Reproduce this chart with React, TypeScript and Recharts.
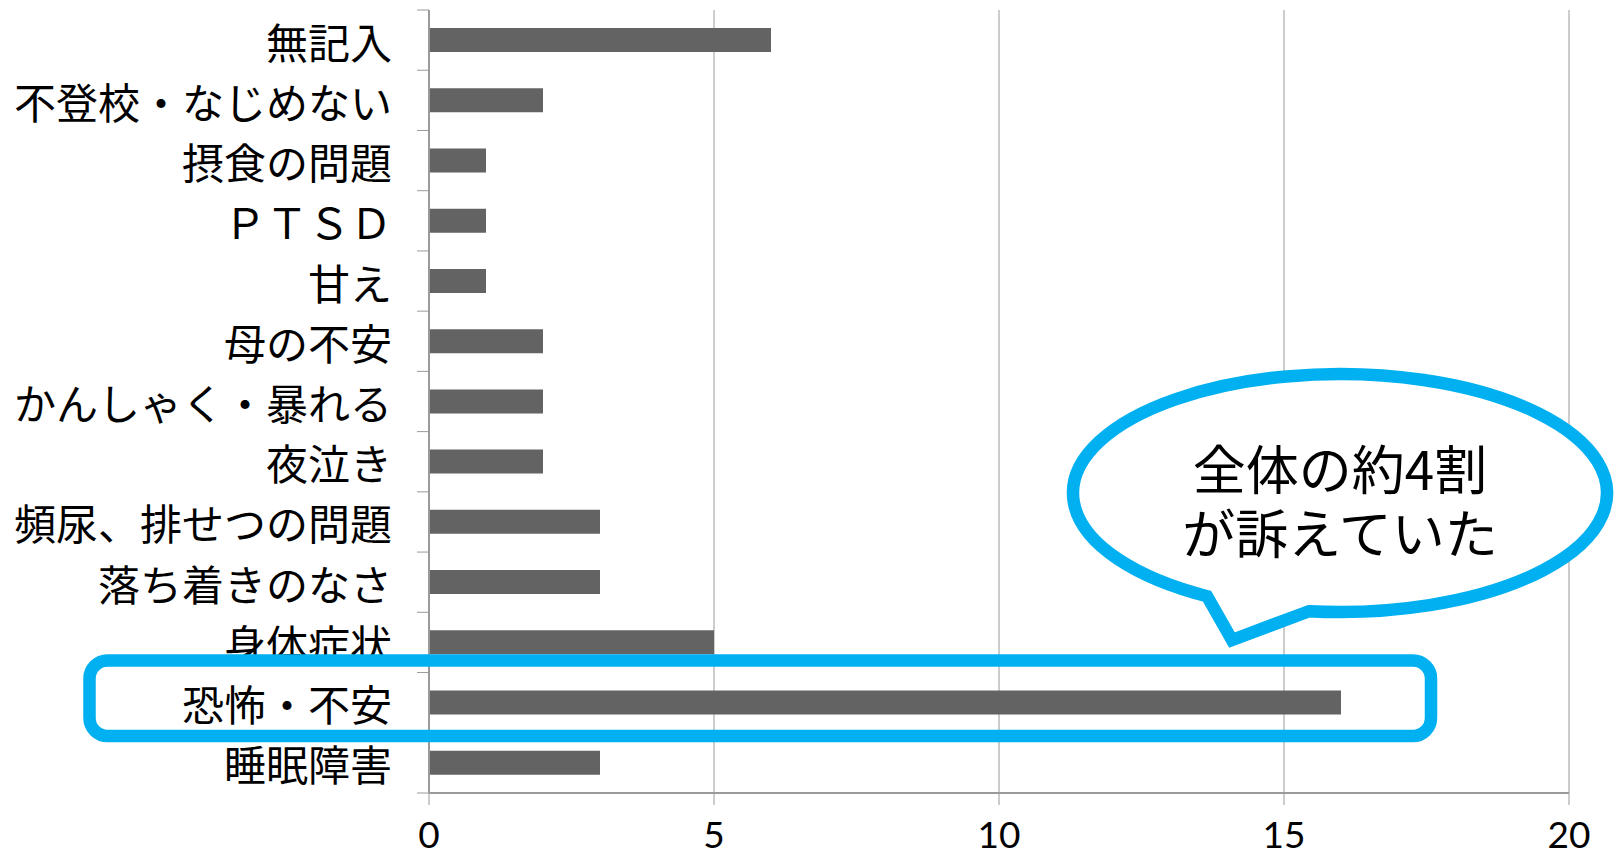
import { Bar, BarChart, CartesianGrid, XAxis, YAxis } from "recharts";

const categories = [
  "無記入",
  "不登校・なじめない",
  "摂食の問題",
  "ＰＴＳＤ",
  "甘え",
  "母の不安",
  "かんしゃく・暴れる",
  "夜泣き",
  "頻尿、排せつの問題",
  "落ち着きのなさ",
  "身体症状",
  "恐怖・不安",
  "睡眠障害",
];

const counts = [6, 2, 1, 1, 1, 2, 2, 2, 3, 3, 5, 16, 3];

const xTicks = [0, 5, 10, 15, 20];

const calloutLines = ["全体の約4割", "が訴えていた"];

const data = categories.map((name, i) => ({ name, value: counts[i] }));

const WIDTH = 1621;
const HEIGHT = 858;
const TOP = 10;
const X_AXIS_HEIGHT = 65;
const Y_AXIS_WIDTH = 429;
const BAND = (HEIGHT - TOP - X_AXIS_HEIGHT) / categories.length;
const GRAY = "#9a9a9a";
const BLUE = "#00b0f0";

// category label plus an Excel-style tick on the band boundary
function CategoryTick(props: any) {
  const { x, y, payload, index } = props;
  const axisX = x + 37;
  return (
    <g>
      <line x1={axisX - 12} x2={axisX} y1={y - BAND / 2} y2={y - BAND / 2} stroke={GRAY} />
      {index === categories.length - 1 ? (
        <line x1={axisX - 12} x2={axisX} y1={y + BAND / 2} y2={y + BAND / 2} stroke={GRAY} />
      ) : null}
      <text
        x={x}
        y={y}
        textAnchor="end"
        dominantBaseline="central"
        fontFamily="'Noto Sans CJK JP', sans-serif"
        fontSize={42}
        fill="#000"
      >
        {payload.value}
      </text>
    </g>
  );
}

function Callouts() {
  // speech bubble: ellipse arc plus tail
  const cx = 1340;
  const cy = 493;
  const rx = 267;
  const ry = 119;
  const ax = 1207;
  const ay = cy + ry * Math.sqrt(1 - ((ax - cx) / rx) ** 2);
  const bx = 1309;
  const by = cy + ry * Math.sqrt(1 - ((bx - cx) / rx) ** 2);
  const bubble = `M ${bx} ${by} A ${rx} ${ry} 0 1 0 ${ax} ${ay} L 1232 640 Z`;

  return (
    <svg
      width={WIDTH}
      height={HEIGHT}
      style={{ position: "absolute", top: 0, left: 0, pointerEvents: "none" }}
    >
      <rect x={89.5} y={660.5} width={1341.5} height={75.5} rx={18} ry={18} fill="none" stroke={BLUE} strokeWidth={12.5} />
      <path d={bubble} fill="#fff" stroke={BLUE} strokeWidth={12.5} strokeLinejoin="miter" />
      <text
        textAnchor="middle"
        dominantBaseline="central"
        fontFamily="'Noto Sans CJK JP', sans-serif"
        fontSize={53}
        fill="#000"
      >
        {calloutLines.map((line, i) => (
          <tspan key={line} x={cx} y={467 + i * 64}>
            {line}
          </tspan>
        ))}
      </text>
    </svg>
  );
}

export default function App() {
  return (
    <div style={{ position: "absolute", top: 0, left: 0, width: WIDTH, height: HEIGHT, background: "#fff" }}>
      <BarChart
        width={WIDTH}
        height={HEIGHT}
        data={data}
        layout="vertical"
        margin={{ top: TOP, right: 52, left: 0, bottom: 0 }}
      >
        <CartesianGrid horizontal={false} stroke={GRAY} />
        <XAxis
          type="number"
          domain={[0, 20]}
          ticks={xTicks}
          interval={0}
          height={X_AXIS_HEIGHT}
          axisLine={{ stroke: GRAY, strokeWidth: 2 }}
          tickLine={{ stroke: GRAY }}
          tickSize={12}
          tickMargin={17}
          tick={{ fill: "#000", fontSize: 37, fontFamily: "Lato, sans-serif" }}
        />
        <YAxis
          type="category"
          dataKey="name"
          width={Y_AXIS_WIDTH}
          interval={0}
          axisLine={{ stroke: GRAY, strokeWidth: 2 }}
          tickLine={false}
          tickSize={12}
          tickMargin={25}
          tick={<CategoryTick />}
        />
        <Bar dataKey="value" fill="#636363" barSize={24} isAnimationActive={false} />
      </BarChart>
      <Callouts />
    </div>
  );
}
